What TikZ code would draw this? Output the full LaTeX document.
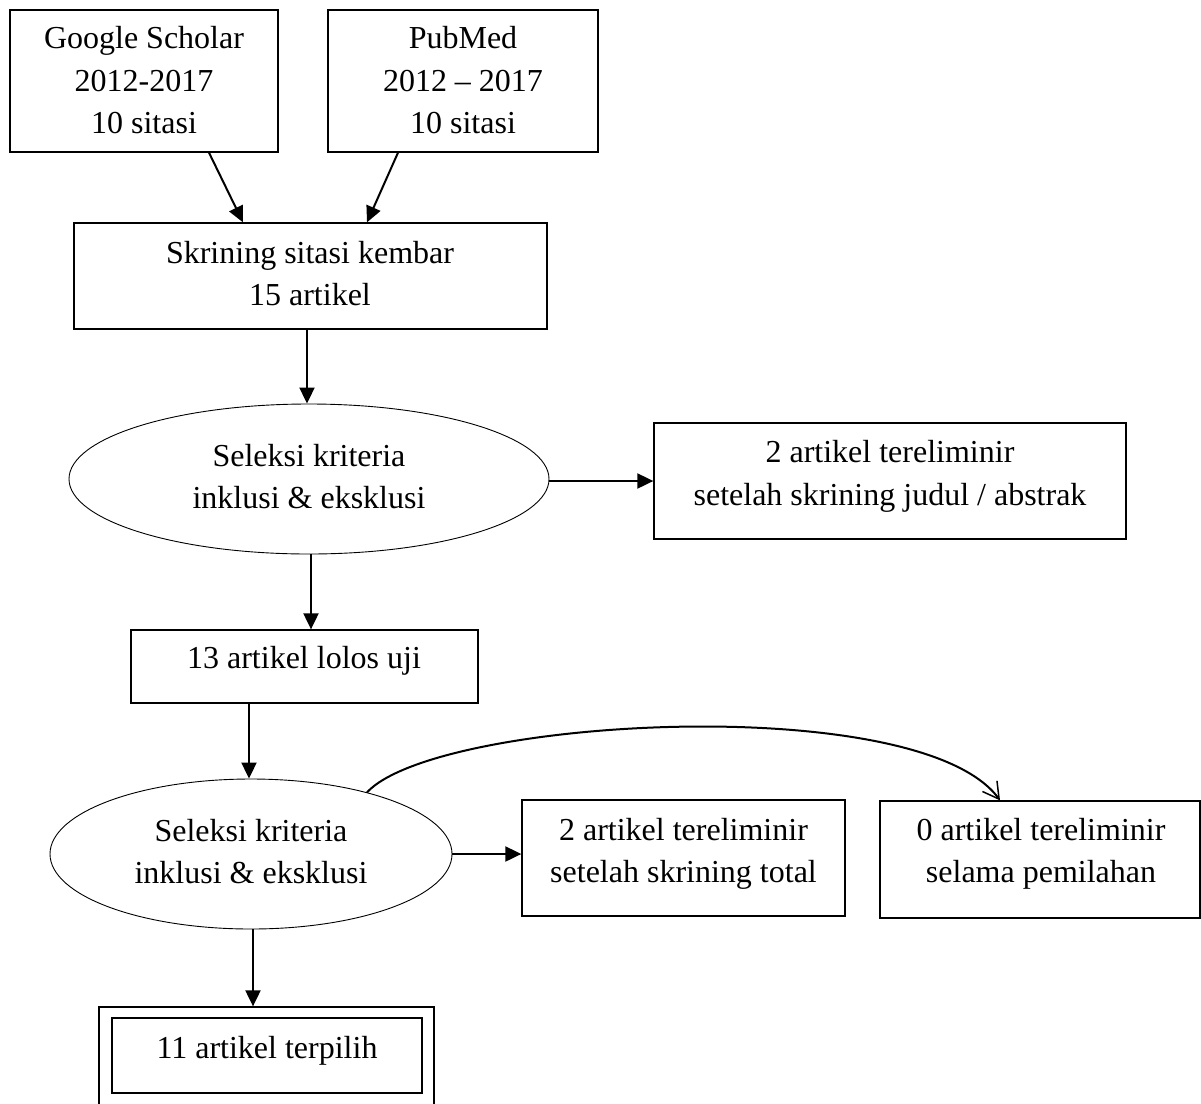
\documentclass[tikz,border=0pt]{standalone}
\usepackage{fontspec}
\setmainfont{Liberation Serif}
\usetikzlibrary{shapes.geometric,arrows.meta}
\tikzset{
  boxnode/.style={draw, line width=1.3pt, inner sep=0pt, rectangle},
  ellnode/.style={draw, line width=0.9pt, inner sep=0pt, ellipse},
  txt/.style={inner sep=0pt, align=center, font=\fontsize{32}{42.5}\selectfont},
  arr/.style={line width=2pt, -{Triangle[length=16pt,width=15pt]}},
  curvearr/.style={line width=2pt, -{Straight Barb[length=16pt,width=18pt,line width=1.5pt]}}
}
\begin{document}
\begin{tikzpicture}[x=1pt,y=-1pt]
\useasboundingbox (0,0) rectangle (1201,1103);
\clip (0,0) rectangle (1201,1103);
% shapes
\node[boxnode, minimum width=268pt, minimum height=142pt] (gs) at (144,81) {};
\node[boxnode, minimum width=270pt, minimum height=142pt] (pm) at (463,81) {};
\node[boxnode, minimum width=473pt, minimum height=106pt] (sk) at (310.5,276) {};
\node[ellnode, minimum width=480pt, minimum height=150pt] (e1) at (309,479) {};
\node[boxnode, minimum width=472pt, minimum height=116pt] (abs) at (890,481) {};
\node[boxnode, minimum width=347pt, minimum height=73pt] (lolos) at (304.5,666.5) {};
\node[ellnode, minimum width=402pt, minimum height=150pt] (e2) at (251,854) {};
\node[boxnode, minimum width=323pt, minimum height=116pt] (tot) at (683.5,858) {};
\node[boxnode, minimum width=320pt, minimum height=117pt] (zero) at (1040,859.5) {};
\node[boxnode, minimum width=335pt, minimum height=108pt] (outer) at (266.5,1061) {};
\node[boxnode, minimum width=310pt, minimum height=75pt] (inner) at (267,1055.5) {};
% texts
\node[txt] (tgs) at (144,80.5) {Google Scholar\\2012-2017\\10 sitasi};
\node[txt] (tpm) at (463,80.5) {PubMed\\2012 – 2017\\10 sitasi};
\node[txt] (tsk) at (310,273.5) {Skrining sitasi kembar\\15 artikel};
\node[txt] (te1) at (309,476.5) {Seleksi kriteria\\inklusi \& eksklusi};
\node[txt] (tabs) at (890,476.5) {2 artikel tereliminir\\setelah skrining judul / abstrak};
\node[txt] (tlolos) at (304,660.5) {13 artikel lolos uji};
\node[txt] (te2) at (251,851.5) {Seleksi kriteria\\inklusi \& eksklusi};
\node[txt] (ttot) at (683.5,854) {2 artikel tereliminir\\setelah skrining total};
\node[txt] (tzero) at (1041,854) {0 artikel tereliminir\\selama pemilahan};
\node[txt] (tinner) at (267,1050.5) {11 artikel terpilih};
% connectors
\draw[arr] ([xshift=65pt]gs.south) -- ([xshift=-67.5pt]sk.north);
\draw[arr] ([xshift=-65pt]pm.south) -- ([xshift=56.5pt]sk.north);
\draw[arr] ([xshift=-2pt]e1.north |- sk.south) -- ([xshift=-2pt]e1.north);
\draw[arr] (abs.west -| e1.east) -- (abs.west);
\draw[arr] ([xshift=2pt]e1.south) -- ([xshift=2pt]e1.south |- lolos.north);
\draw[arr] ([xshift=-2pt]e2.north |- lolos.south) -- ([xshift=-2pt]e2.north);
\draw[arr] (e2.east) -- (e2.east -| tot.west);
\draw[arr] ([xshift=2pt]e2.south) -- ([xshift=2pt]e2.south |- outer.north);
\draw[curvearr] (e2.28) .. controls +(70,-75) and +(-80,-110) .. ([xshift=-40pt]zero.north);
\end{tikzpicture}
\end{document}
